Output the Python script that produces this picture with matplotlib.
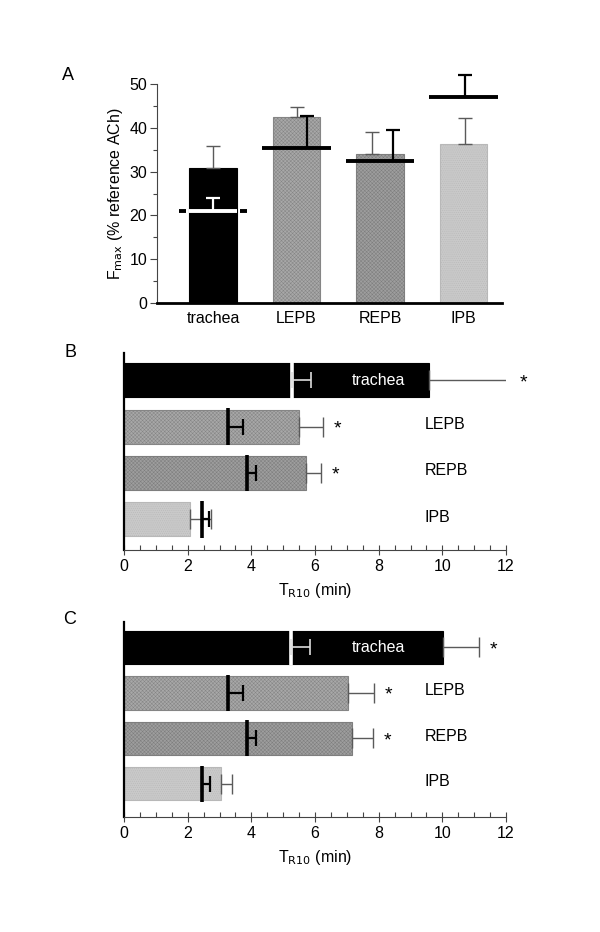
import matplotlib
matplotlib.use("Agg")
import matplotlib.pyplot as plt
import numpy as np
from matplotlib.ticker import MultipleLocator

plt.rcParams['font.family'] = ['Liberation Sans', 'DejaVu Sans']
plt.rcParams['hatch.linewidth'] = 0.35

# ---------------- data ----------------
groups = ["trachea", "LEPB", "REPB", "IPB"]

# Panel A: Fmax (% reference ACh)
fmax_bar = [30.8, 42.4, 34.0, 36.3]
fmax_bar_err = [5.0, 2.4, 5.1, 6.0]
fmax_line = [21.0, 35.3, 32.5, 47.0]
fmax_line_err = [3.0, 7.4, 7.0, 5.0]

# Panel B: TR10 (min)
b_bar = [9.59, 5.50, 5.72, 2.08]
b_bar_err = [2.5, 0.76, 0.47, 0.65]
b_line = [5.28, 3.27, 3.87, 2.45]
b_line_err = [0.60, 0.47, 0.28, 0.22]
b_sig = [True, True, True, False]

# Panel C: TR10 (min)
c_bar = [10.03, 7.04, 7.17, 3.05]
c_bar_err = [1.13, 0.82, 0.66, 0.35]
c_line = [5.25, 3.27, 3.87, 2.45]
c_line_err = [0.60, 0.47, 0.28, 0.25]
c_sig = [True, True, True, False]

# ---------------- styles ----------------
face = ["black", "#a8a8a8", "#9e9e9e", "#c9c9c9"]
hatches = [None, "xxxxxxxxx", "xxxxxxxxx", "........"]
hatchcol = ["black", "#858585", "#7e7e7e", "#b8b8b8"]
linecol = ["white", "black", "black", "black"]
errc = "#5a5a5a"
FS = 11.5

fig = plt.figure(figsize=(6.0, 9.32), dpi=100)

# ---------------- Panel A ----------------
axA = fig.add_axes([157/600, 1-303/932, 345/600, 219/932])
x = np.arange(len(groups))
bw = 0.57
lw_half = 0.41
bar_err_off = [0.0, 0.0, -0.10, 0.02]
line_err_off = [0.0, 0.12, 0.15, 0.02]
for i in range(len(groups)):
    axA.bar(x[i], fmax_bar[i], width=bw, color=face[i], edgecolor=hatchcol[i] if i else "black",
            hatch=hatches[i], linewidth=0.8, zorder=2)
    axA.errorbar(x[i] + bar_err_off[i], fmax_bar[i], yerr=[[0], [fmax_bar_err[i]]], fmt='none',
                 ecolor=errc, elinewidth=1.0, capsize=5, capthick=1.0, zorder=3)
    if i == 0:
        for a, b in [(x[i]-lw_half, x[i]-bw/2-0.04), (x[i]+bw/2+0.04, x[i]+lw_half)]:
            axA.plot([a, b], [fmax_line[i]]*2, color="black", lw=2.8, solid_capstyle='butt', zorder=4)
        axA.plot([x[i]-bw/2, x[i]+bw/2], [fmax_line[i]]*2, color="white", lw=2.8,
                 solid_capstyle='butt', zorder=5)
        ebl = axA.errorbar(x[i] + line_err_off[i], fmax_line[i], yerr=[[0], [fmax_line_err[i]]], fmt='none',
                           ecolor="white", elinewidth=1.6, capsize=5, capthick=1.6, zorder=5)
    else:
        axA.plot([x[i]-lw_half, x[i]+lw_half], [fmax_line[i]]*2, color="black", lw=2.8,
                 solid_capstyle='butt', zorder=4)
        ebl = axA.errorbar(x[i] + line_err_off[i], fmax_line[i], yerr=[[0], [fmax_line_err[i]]], fmt='none',
                           ecolor="black", elinewidth=1.6, capsize=5, capthick=1.6, zorder=4)
    for art in ebl.lines[1] + ebl.lines[2]:
        art.set_clip_on(False)
axA.set_xlim(-0.67, 3.46)
axA.set_ylim(0, 50)
axA.set_xticks(x)
axA.set_xticklabels(groups, fontsize=FS)
axA.tick_params(axis='x', length=0, pad=6)
axA.yaxis.set_major_locator(MultipleLocator(10))
axA.yaxis.set_minor_locator(MultipleLocator(5))
axA.tick_params(axis='y', which='major', length=5, width=0.8, color="#444", labelsize=FS, pad=2)
axA.tick_params(axis='y', which='minor', length=3, width=0.8, color="#444")
for s in ["top", "right"]:
    axA.spines[s].set_visible(False)
axA.spines["left"].set_color("#444")
axA.spines["left"].set_linewidth(0.8)
axA.spines["bottom"].set_linewidth(2.0)
axA.set_ylabel("F$_{\\mathrm{max}}$ (% reference ACh)", fontsize=FS, labelpad=3)
fig.text(68/600, 1-75/932, "A", fontsize=13, ha="center", va="center")


def hpanel(rect, bars, bar_err, lines, line_err, sig):
    ax = fig.add_axes(rect)
    y = np.arange(len(groups))
    bh = 0.73
    for i in range(len(groups)):
        ax.barh(y[i], bars[i], height=bh, color=face[i],
                edgecolor=hatchcol[i] if i else "black", hatch=hatches[i], linewidth=0.8, zorder=2)
        ax.errorbar(bars[i], y[i], xerr=[[0], [bar_err[i]]], fmt='none', ecolor=errc,
                    elinewidth=1.0, capsize=7, capthick=1.0, zorder=3)
        ax.plot([lines[i]]*2, [y[i]-bh/2-0.03, y[i]+bh/2+0.03], color=linecol[i], lw=2.6,
                solid_capstyle='butt', zorder=4)
        ax.errorbar(lines[i], y[i], xerr=[[0], [line_err[i]]], fmt='none', ecolor=linecol[i] if i else "#dddddd",
                    elinewidth=1.6 if i else 1.2, capsize=6, capthick=1.6 if i else 1.2, zorder=4)
        if sig[i]:
            ax.text(bars[i] + bar_err[i] + 0.45, y[i] + 0.05, "*", fontsize=14, ha="center", va="center")
        if i == 0:
            ax.text(8.0, y[i], groups[i], color="white", fontsize=FS, ha="center", va="center", zorder=6)
        else:
            ax.text(9.45, y[i] - 0.05, groups[i], color="black", fontsize=FS, ha="left", va="center")
    ax.set_xlim(0, 12)
    return ax


def finish(ax, ylim):
    ax.set_ylim(*ylim)
    ax.set_yticks([])
    ax.xaxis.set_major_locator(MultipleLocator(2))
    ax.xaxis.set_minor_locator(MultipleLocator(0.5))
    ax.tick_params(axis='x', which='major', direction='inout', length=7, width=0.8, color="#444",
                   labelsize=FS, pad=3)
    ax.tick_params(axis='x', which='minor', direction='in', length=3.5, width=0.8, color="#444")
    for s in ["top", "right"]:
        ax.spines[s].set_visible(False)
    ax.spines["left"].set_linewidth(1.6)
    ax.spines["bottom"].set_color("#444")
    ax.spines["bottom"].set_linewidth(0.8)
    ax.set_xlabel("T$_{\\mathrm{R10}}$ (min)", fontsize=FS, labelpad=5)


axB = hpanel([124/600, 1-550/932, 382/600, 197/932], b_bar, b_bar_err, b_line, b_line_err, b_sig)
finish(axB, (3.66, -0.59))
fig.text(70/600, 1-352/932, "B", fontsize=13, ha="center", va="center")

axC = hpanel([124/600, 1-817/932, 382/600, 195/932], c_bar, c_bar_err, c_line, c_line_err, c_sig)
finish(axC, (3.73, -0.56))
fig.text(70/600, 1-619/932, "C", fontsize=13, ha="center", va="center")

fig.savefig("out.png", dpi=100)
